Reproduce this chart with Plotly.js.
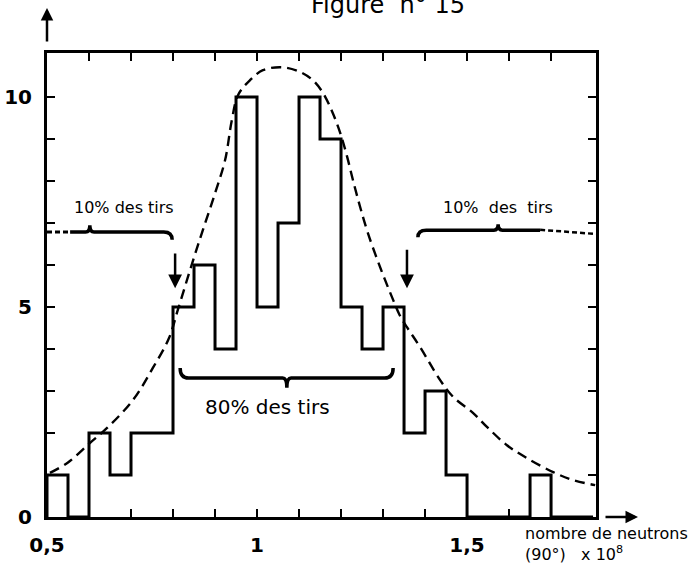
<!DOCTYPE html>
<html><head><meta charset="utf-8">
<script src="https://cdn.plot.ly/plotly-3.0.1.min.js"></script>
<style>html,body{margin:0;padding:0;background:#fff}</style>
</head><body><div id="chart" style="width:697px;height:569px"></div>
<script>
// ---- data ----
const binLeft = [0.50,0.55,0.60,0.65,0.70,0.75,0.80,0.85,0.90,0.95,1.00,1.05,1.10,1.15,1.20,1.25,1.30,1.35,1.40,1.45,1.50,1.55,1.60,1.65,1.70,1.75];
const histEnd = 1.80;
const counts  = [1,0,2,1,2,2,5,6,4,10,5,7,10,9,5,4,5,2,3,1,0,0,0,1,0,0];

const curveX = [0.507,0.55,0.602,0.643,0.705,0.752,0.79,0.812,0.848,0.871,0.90,0.924,0.94,0.955,0.983,1.014,1.06,1.102,1.133,1.157,1.179,1.198,1.214,1.229,1.245,1.264,1.293,1.324,1.34,1.357,1.388,1.436,1.467,1.514,1.548,1.595,1.643,1.705,1.752,1.805];
const curveY = [1.05,1.3,1.76,2.12,2.79,3.55,4.25,4.95,6.12,6.83,7.71,8.5,9.45,10.05,10.4,10.64,10.71,10.6,10.4,10.1,9.65,9.15,8.6,8.0,7.4,6.76,5.95,5.17,4.8,4.52,4.05,3.26,2.86,2.48,2.14,1.71,1.40,1.07,0.88,0.76];

const xTickVals = [0.5,0.6,0.7,0.8,0.9,1.0,1.1,1.2,1.3,1.4,1.5,1.6,1.7];
const xTickText = ['0,5','','','','','1','','','','','1,5','',''];
const yTickVals = [0,1,2,3,4,5,6,7,8,9,10];
const yTickText = ['0','','','','','5','','','','','10'];

const bandLabels = ['10% des tirs','80% des tirs','10%  des  tirs'];
const bandLabelX = [0.683, 1.026, 1.574];
const bandLabelY = [7.36, 2.62, 7.36];

// braces: [x0, x1, xc, y, tipY, leftEndY, rightEndY]
const braceLeft10  = [0.555, 0.798, 0.602, 6.79, 6.95, null, 6.6];
const braceCentre80 = [0.817, 1.324, 1.071, 3.31, 3.08, 3.55, 3.55];
const braceRight10 = [1.383, 1.674, 1.574, 6.83, 6.97, 6.66, null];
const tailLeftX = [0.5, 0.555],  tailLeftY = [6.79, 6.79];
const tailRightX = [1.674, 1.807], tailRightY = [6.84, 6.74];

const cutArrowX = [0.805, 1.357];
const cutArrowTop = [6.31, 6.4];
const cutArrowTip = [5.45, 5.45];

// ---- build ----
const stepX = [binLeft[0]].concat(binLeft, [histEnd]);
const stepY = [0].concat(counts, [counts[counts.length-1]]);

function bracePath(b){
  const [x0,x1,xc,y,tip,eL,eR] = b;
  const r = 0.02, r2 = 0.01;
  let p = '';
  if (eL === null) p += `M${x0},${y} `;
  else p += `M${x0},${eL} Q${x0},${y} ${x0+r},${y} `;
  p += `L${xc-r2},${y} Q${xc},${y} ${xc},${tip} Q${xc},${y} ${xc+r2},${y} `;
  if (eR === null) p += `L${x1},${y}`;
  else p += `L${x1-r},${y} Q${x1},${y} ${x1},${eR}`;
  return p;
}

const traces = [
  {x: curveX, y: curveY, mode:'lines', line:{color:'#000', width:2.4, dash:'10px,6px', shape:'spline', smoothing:1}, hoverinfo:'skip'},
  {x: stepX, y: stepY, mode:'lines', line:{color:'#000', width:3, shape:'hv'}, hoverinfo:'skip'},
  {x: tailLeftX, y: tailLeftY, mode:'lines', line:{color:'#000', width:3, dash:'5px,3px'}, hoverinfo:'skip'},
  {x: tailRightX, y: tailRightY, mode:'lines', line:{color:'#000', width:2.5, dash:'5px,3px'}, hoverinfo:'skip'}
];

const font = 'DejaVu Sans, sans-serif';
const annotations = [];
bandLabels.forEach((t,i)=>annotations.push({x:bandLabelX[i], y:bandLabelY[i], xref:'x', yref:'y', text:t, showarrow:false, font:{family:font, size: i===1?20:16, color:'#000'}}));
cutArrowX.forEach((x,i)=>annotations.push({x:x, y:cutArrowTip[i], ax:x, ay:cutArrowTop[i], xref:'x', yref:'y', axref:'x', ayref:'y', text:'', showarrow:true, arrowhead:2, arrowsize:1.1, arrowwidth:2.5, arrowcolor:'#000'}));
// axis arrows
annotations.push({xref:'paper', yref:'paper', x:0, y:1.097, ax:0, ay:35, text:'', showarrow:true, arrowhead:2, arrowsize:1, arrowwidth:2.5, arrowcolor:'#000'});
annotations.push({xref:'paper', yref:'paper', x:1.0765, y:0, ax:-34, ay:0, text:'', showarrow:true, arrowhead:2, arrowsize:1, arrowwidth:2.5, arrowcolor:'#000'});
// axis title
annotations.push({xref:'paper', yref:'paper', x:0.867, y:0, yshift:-5, xanchor:'left', yanchor:'top', align:'left', showarrow:false,
  text:'nombre de neutrons<br>(90°)   x 10<sup>8</sup>', font:{family:font, size:16, color:'#000'}});
// figure title (cut at the top of the page, as in the original scan)
annotations.push({xref:'paper', yref:'paper', x:0.621, y:1, yshift:48, xanchor:'center', yanchor:'middle', showarrow:false,
  text:'Figure  n° 15', font:{family:font, size:24, color:'#000'}});

const shapes = [braceLeft10, braceCentre80, braceRight10].map(b=>({type:'path', xref:'x', yref:'y', path:bracePath(b), line:{color:'#000', width:3.5}}));

const axisCommon = {showline:true, linewidth:3, linecolor:'#000', mirror:'ticks', ticks:'inside', ticklen:8, tickwidth:2, tickcolor:'#000',
  showgrid:false, zeroline:false, fixedrange:true, tickmode:'array', ticklabelstandoff:8,
  tickfont:{family:font, size:20, color:'#000', weight:'bold'}};

const layout = {
  width:697, height:569, margin:{l:47, r:101, t:53, b:52},
  paper_bgcolor:'#fff', plot_bgcolor:'#fff', showlegend:false,
  xaxis: Object.assign({}, axisCommon, {range:[0.5, 1.807], tickvals:xTickVals, ticktext:xTickText}),
  yaxis: Object.assign({}, axisCommon, {range:[0, 11.05], tickvals:yTickVals, ticktext:yTickText}),
  annotations, shapes
};

Plotly.newPlot('chart', traces, layout, {staticPlot:true, displayModeBar:false});
</script></body></html>
